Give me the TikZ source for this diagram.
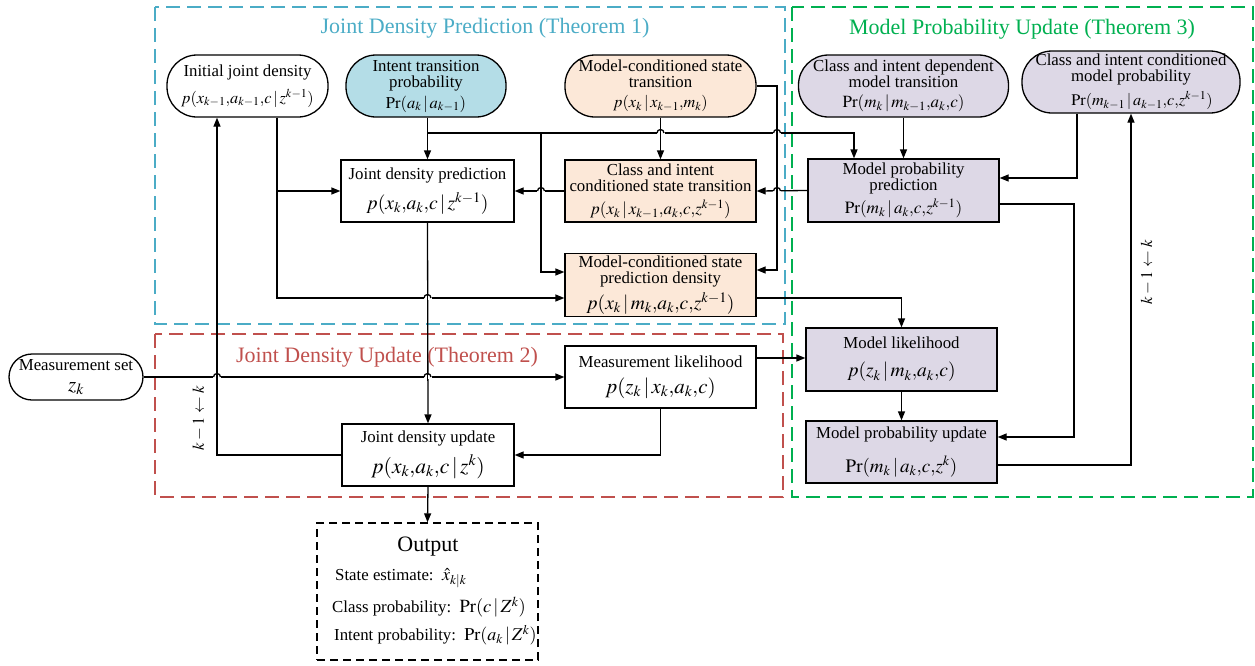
\documentclass[tikz,border=0pt]{standalone}
\usepackage{mathptmx}
\usepackage{fontspec}
\setmainfont{Liberation Serif}
\usetikzlibrary{arrows.meta}

\definecolor{predblue}{RGB}{75,172,198}
\definecolor{updred}{RGB}{192,80,77}
\definecolor{probgreen}{RGB}{0,176,80}
\definecolor{intentfill}{RGB}{180,221,231}
\definecolor{statefill}{RGB}{252,232,216}
\definecolor{modelfill}{RGB}{221,216,230}

\newcommand{\bodyfont}{\fontsize{16.8}{16}\selectfont}
\newcommand{\titlefont}{\fontsize{22}{24}\selectfont}
% formula set at a given size
\newcommand{\fm}[2]{{\fontsize{#1}{#1}\selectfont$#2$}}
% compact conditioning bar and comma
\newcommand{\cnd}{\mkern2mu|\mkern2mu}
\newcommand{\cm}{{,}}

% small semicircular hop of a horizontal line over a vertical one
\newcommand{\hopover}[2]{%
  \fill[white] (#1-4,#2-1.6) rectangle (#1+4,#2+1.6);
  \draw[line] (#1-3.5,#2) arc[start angle=180,end angle=0,radius=3.5pt];
  \draw[line] (#1,#2-4) -- (#1,#2+4);
}

\begin{document}
\begin{tikzpicture}[x=1pt,y=-1pt,
  line/.style={line width=1.3pt},
  arr/.style={line, -{Triangle[length=9pt,width=7pt]}},
  base/.style={draw, line width=1.3pt, align=center, inner sep=0pt, font=\bodyfont},
  box/.style={base},
  pill/.style={base, rounded corners=30pt},
  frame/.style={line width=2pt, dash pattern=on 14pt off 7pt},
  ttl/.style={font=\titlefont},
  note/.style={font=\bodyfont, inner sep=0pt}
]
\useasboundingbox (0,0) rectangle (1255,665);

% stage frames
\draw[frame, predblue] (155,7) rectangle (785,324);
\draw[frame, updred] (155,334) rectangle (783,497);
\draw[frame, probgreen] (792,7) rectangle (1253,497);

\node[ttl, text=predblue] (tpred) at (485,28) {Joint Density Prediction (Theorem 1)};
\node[ttl, text=updred] (tupd) at (387,357) {Joint Density Update (Theorem 2)};
\node[ttl, text=probgreen] (tprob) at (1022,29) {Model Probability Update (Theorem 3)};

% inputs
\node[pill, minimum width=161pt, minimum height=62pt] (init) at (247.5,86)
  {Initial joint density\\[8pt]\fm{16.3}{p(x_{k-1}\cm a_{k-1}\cm c\cnd z^{k-1})}};
\node[pill, fill=intentfill, minimum width=160pt, minimum height=62pt] (intent) at (426,86)
  {Intent transition\\probability\\[4pt]\fm{16.5}{\mathrm{Pr}(a_k\cnd a_{k-1})}};
\node[pill, fill=statefill, minimum width=191pt, minimum height=62pt] (mcst) at (660.5,86)
  {Model-conditioned state\\transition\\[4pt]\fm{16.3}{p(x_k\cnd x_{k-1}\cm m_k)}};
\node[pill, fill=modelfill, minimum width=210pt, minimum height=62pt] (cidmt) at (903.5,86)
  {Class and intent dependent\\model transition\\[4pt]\fm{17}{\mathrm{Pr}(m_k\cnd m_{k-1}\cm a_k\cm c)}};
\node[pill, fill=modelfill, minimum width=218pt, minimum height=62pt] (cicmp) at (1131,82)
  {Class and intent conditioned\\model probability\\[5pt]\hspace*{22pt}\fm{16.2}{\mathrm{Pr}(m_{k-1}\cnd a_{k-1}\cm c\cm z^{k-1})}};
\node[base, rounded corners=23pt, minimum width=134pt, minimum height=46pt] (mset) at (76,377)
  {Measurement set\\[5pt]\fm{21}{z_k}};

% processing blocks
\node[box, minimum width=173pt, minimum height=62pt] (jdp) at (427.5,191)
  {Joint density prediction\\[8pt]\fm{19.6}{p(x_k\cm a_k\cm c\cnd z^{k-1})}};
\node[box, fill=statefill, minimum width=191pt, minimum height=62pt] (cicst) at (660.5,191)
  {Class and intent\\conditioned state transition\\[7pt]\fm{17}{p(x_k\cnd x_{k-1}\cm a_k\cm c\cm z^{k-1})}};
\node[box, fill=statefill, minimum width=191pt, minimum height=63pt] (mcspd) at (660.5,285)
  {Model-conditioned state\\prediction density\\[4pt]\fm{19.5}{p(x_k\cnd m_k\cm a_k\cm c\cm z^{k-1})}};
\node[box, minimum width=191pt, minimum height=62pt] (mlik) at (660.5,377)
  {Measurement likelihood\\[10pt]\fm{20.9}{p(z_k\cnd x_k\cm a_k\cm c)}};
\node[box, minimum width=172pt, minimum height=62pt] (jdu) at (428,455)
  {Joint density update\\[7pt]\fm{21.5}{p(x_k\cm a_k\cm c\cnd z^k)}};
\node[box, fill=modelfill, minimum width=191pt, minimum height=63pt] (mpp) at (903.5,190.5)
  {Model probability\\prediction\\[4pt]\fm{17.2}{\mathrm{Pr}(m_k\cnd a_k\cm c\cm z^{k-1})}};
\node[box, fill=modelfill, minimum width=191pt, minimum height=63pt] (modlik) at (901.5,359.5)
  {Model likelihood\\[12pt]\fm{19.5}{p(z_k\cnd m_k\cm a_k\cm c)}};
\node[box, fill=modelfill, minimum width=191pt, minimum height=62pt] (mpu) at (901.5,452)
  {Model probability update\\[12pt]\fm{19}{\mathrm{Pr}(m_k\cnd a_k\cm c\cm z^k)}};

% output block
\node[draw, line width=1.3pt, dash pattern=on 8pt off 5pt, minimum width=221pt, minimum height=137pt] (out) at (427.5,591.5) {};
\node[ttl] (outttl) at (428,547) {Output};
\node[note, anchor=west] (oest) at (335,578) {State estimate:\ \ \fm{18}{\hat{x}_{k|k}}};
\node[note, anchor=west] (ocls) at (332,607) {Class probability:\ \ \fm{18.5}{\mathrm{Pr}(c\cnd Z^k)}};
\node[note, anchor=west] (oint) at (334,635) {Intent probability:\ \ \fm{18}{\mathrm{Pr}(a_k\cnd Z^k)}};

% time-shift labels
\node[note, rotate=90] (shiftL) at (199,418) {\fm{16.5}{k-1\leftarrow k}};
\node[note, rotate=90] (shiftR) at (1147,272) {\fm{16.5}{k-1\leftarrow k}};

% connectors: prediction stage
\draw[arr] (intent.south -| jdp.north) -- (jdp.north);
\draw[arr] (jdp.north |- 0,133) -| (mpp.north -| 854,0);
\draw[arr] (541,133) |- (mcspd.west |- 0,272);
\draw[arr] (init.south -| 277,0) |- (mcspd.west |- 0,298);
\draw[arr] (277,191) -- (jdp.west);
\draw[arr] (mcst.south) -- (cicst.north);
\draw[arr] (mcst.east) -| (777,270) -- (mcspd.east |- 0,270);
\draw[arr] (cicst.west) -- (jdp.east);

% connectors: model probability stage
\draw[arr] (mpp.west) -- (cicst.east);
\draw[arr] (cidmt.south) -- (mpp.north);
\draw[arr] (cicmp.south -| 1077,0) |- (mpp.east |- 0,178);
\draw[arr] (mpp.east |- 0,204) -| (1074,437) -- (mpu.east |- 0,437);
\draw[arr] (mpu.east |- 0,465) -| (cicmp.south -| 1131,0);
\draw[arr] (mcspd.east |- 0,298) -| (modlik.north);
\draw[arr] (mlik.east |- 0,358) -- (modlik.west |- 0,358);
\draw[arr] (modlik.south) -- (mpu.north);

% connectors: update stage
\draw[arr] (mset.east) -- (mlik.west |- mset.east);
\draw[arr] (jdp.south) -- (jdu.north);
\draw[arr] (mlik.south) |- (jdu.east);
\draw[arr] (jdu.west) -| (init.south -| 217,0);
\draw[arr] (jdu.south) -- (out.north);

% line hops at crossings
\hopover{660.5}{133}
\hopover{777}{133}
\hopover{541}{191}
\hopover{777}{191}
\hopover{427.5}{298}
\hopover{217}{377}
\hopover{427.5}{377}
\end{tikzpicture}
\end{document}
